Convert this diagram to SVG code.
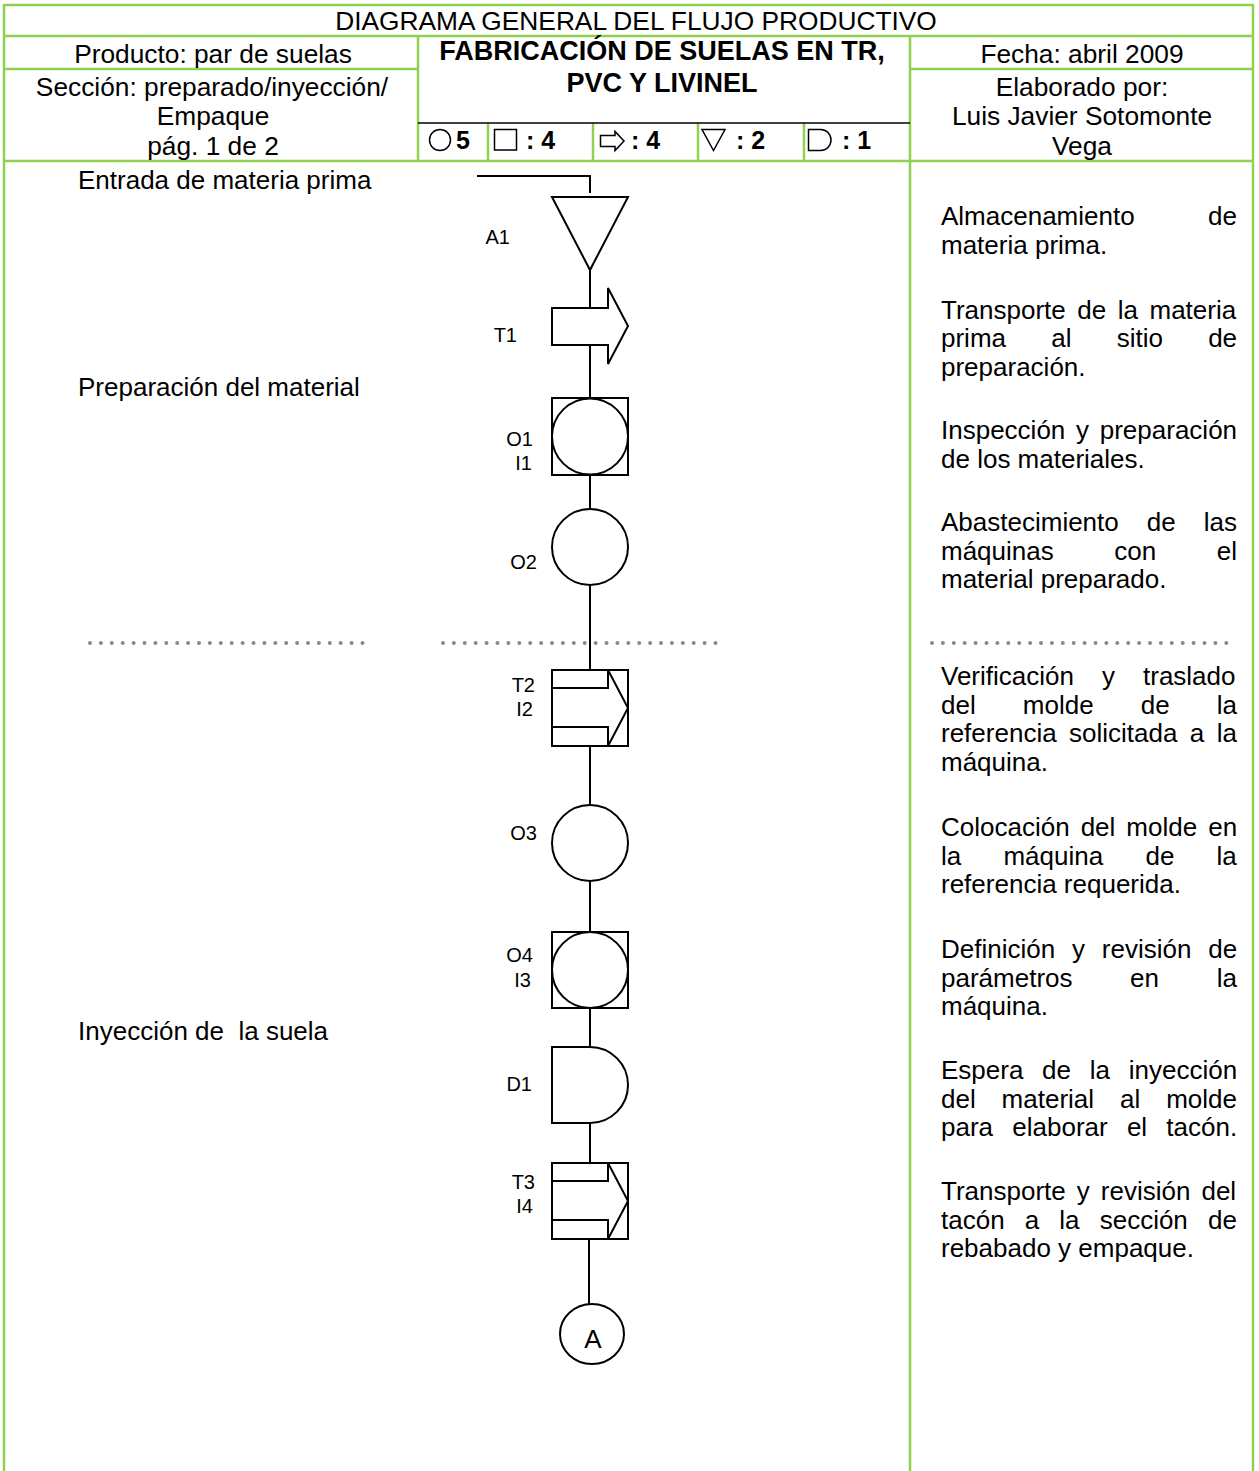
<svg xmlns="http://www.w3.org/2000/svg" width="1259" height="1471" viewBox="0 0 1259 1471">
  <style>
    .grid { stroke: #92D050; stroke-width: 2.5; fill: none; }
    .rule { stroke: #000; stroke-width: 1.5; fill: none; }
    .t { font-family: "Liberation Sans", Arial, sans-serif; fill: #000; }
    .hd { font-size: 26.3px; }
    .mid { text-anchor: middle; }
    .b { font-weight: bold; font-size: 27px; }
    .cnt { font-size: 25px; font-weight: bold; }
    .ico { fill: none; stroke: #000; stroke-width: 1.5; }
    .shape { fill: #fff; stroke: #000; stroke-width: 2; }
    .inner { fill: none; stroke: #000; stroke-width: 2; }
    .conn { fill: none; stroke: #000; stroke-width: 2; }
    .lbl { font-size: 20px; text-anchor: end; }
    .sec { font-size: 26px; }
    .desc { font-size: 26px; }
    .dots { stroke: #8a8a8a; stroke-width: 4; stroke-linecap: round; stroke-dasharray: 0 10.9; fill: none; }
  </style>

  <rect width="1259" height="1471" fill="#fff"/>

  <!-- table frame -->
  <g id="frame">
    <line class="grid" x1="4" y1="5" x2="1254" y2="5"/>
    <line class="grid" x1="4" y1="36" x2="1254" y2="36"/>
    <line class="grid" x1="4" y1="69" x2="418" y2="69"/>
    <line class="grid" x1="910" y1="69" x2="1254" y2="69"/>
    <line class="grid" x1="4" y1="161" x2="1254" y2="161"/>
    <line class="grid" x1="4" y1="4" x2="4" y2="1471"/>
    <line class="grid" x1="1253" y1="4" x2="1253" y2="1471"/>
    <line class="grid" x1="418" y1="36" x2="418" y2="161"/>
    <line class="grid" x1="910" y1="36" x2="910" y2="1471"/>
    <line class="grid" x1="488" y1="123" x2="488" y2="161"/>
    <line class="grid" x1="593" y1="123" x2="593" y2="161"/>
    <line class="grid" x1="698" y1="123" x2="698" y2="161"/>
    <line class="grid" x1="804" y1="123" x2="804" y2="161"/>
    <line class="rule" x1="418" y1="123" x2="910" y2="123"/>
  </g>

  <!-- header texts -->
  <g id="header">
    <text class="t hd mid" x="636" y="30">DIAGRAMA GENERAL DEL FLUJO PRODUCTIVO</text>
    <text class="t hd mid" x="213" y="63">Producto: par de suelas</text>
    <text class="t hd mid" x="212" y="96">Sección: preparado/inyección/</text>
    <text class="t hd mid" x="213" y="125">Empaque</text>
    <text class="t hd mid" x="213" y="155">pág. 1 de 2</text>
    <text class="t hd mid b" x="662" y="60">FABRICACIÓN DE SUELAS EN TR,</text>
    <text class="t hd mid b" x="662" y="92">PVC Y LIVINEL</text>
    <text class="t hd mid" x="1082" y="63">Fecha: abril 2009</text>
    <text class="t hd mid" x="1082" y="96">Elaborado por:</text>
    <text class="t hd mid" x="1082" y="125">Luis Javier Sotomonte</text>
    <text class="t hd mid" x="1082" y="155">Vega</text>
  </g>

  <!-- symbol count row -->
  <g id="counts">
    <circle class="ico" cx="440" cy="140" r="10.5"/>
    <text class="t cnt" x="456" y="149">5</text>
    <rect class="ico" x="494.5" y="129.5" width="22" height="20.5"/>
    <text class="t cnt" x="526" y="149">: 4</text>
    <polygon class="ico" points="600.5,135.5 615,135.5 615,131.5 624,141 615,150.5 615,146.5 600.5,146.5"/>
    <text class="t cnt" x="631" y="149">: 4</text>
    <polygon class="ico" points="702,129.5 725,129.5 713.5,150.5"/>
    <text class="t cnt" x="736" y="149">: 2</text>
    <path class="ico" d="M808.5,129.5 H820.5 A10.5,10.5 0 0 1 820.5,150.5 H808.5 Z"/>
    <text class="t cnt" x="842" y="149">: 1</text>
  </g>

  <!-- section separators -->
  <g id="separators">
    <line class="dots" x1="90" y1="643" x2="368" y2="643"/>
    <line class="dots" x1="443" y1="643" x2="718" y2="643"/>
    <line class="dots" x1="932" y1="643" x2="1232" y2="643"/>
  </g>

  <!-- stage titles on the left -->
  <g id="stages">
    <text class="t sec" x="78" y="189">Entrada de materia prima</text>
    <text class="t sec" x="78" y="396">Preparación del material</text>
    <text class="t sec" x="78" y="1040" xml:space="preserve">Inyección de  la suela</text>
  </g>

  <!-- connectors of the process line -->
  <g id="connectors">
    <polyline class="conn" points="477,176 590,176 590,193"/>
    <line class="conn" x1="590" y1="270" x2="590" y2="308"/>
    <line class="conn" x1="590" y1="345" x2="590" y2="398"/>
    <line class="conn" x1="590" y1="475" x2="590" y2="509"/>
    <line class="conn" x1="590" y1="585" x2="590" y2="670"/>
    <line class="conn" x1="590" y1="746" x2="590" y2="805"/>
    <line class="conn" x1="590" y1="881" x2="590" y2="932"/>
    <line class="conn" x1="590" y1="1008" x2="590" y2="1047"/>
    <line class="conn" x1="590" y1="1123" x2="590" y2="1163"/>
    <line class="conn" x1="589" y1="1239" x2="589" y2="1304"/>
  </g>

  <!-- process steps -->
  <g id="A1">
    <polygon class="shape" points="552,197 628,197 590,270"/>
    <text class="t lbl" x="510" y="244">A1</text>
  </g>
  <g id="T1">
    <polygon class="shape" points="552,308 608,308 608,288 628,326 608,364 608,345 552,345"/>
    <text class="t lbl" x="517" y="342">T1</text>
  </g>
  <g id="O1-I1">
    <rect class="shape" x="552" y="398" width="76" height="77"/>
    <circle class="inner" cx="590" cy="436.5" r="38"/>
    <text class="t lbl" x="533" y="446">O1</text>
    <text class="t lbl" x="532" y="470">I1</text>
  </g>
  <g id="O2">
    <circle class="shape" cx="590" cy="547" r="38"/>
    <text class="t lbl" x="537" y="569">O2</text>
  </g>
  <g id="T2-I2">
    <rect class="shape" x="552" y="670" width="76" height="76"/>
    <polyline class="inner" points="552,688 608,688 608,670 628,708 608,746 608,727 552,727"/>
    <text class="t lbl" x="535" y="692">T2</text>
    <text class="t lbl" x="533" y="716">I2</text>
  </g>
  <g id="O3">
    <circle class="shape" cx="590" cy="843" r="38"/>
    <text class="t lbl" x="537" y="840">O3</text>
  </g>
  <g id="O4-I3">
    <rect class="shape" x="552" y="932" width="76" height="76"/>
    <circle class="inner" cx="590" cy="970" r="38"/>
    <text class="t lbl" x="533" y="962">O4</text>
    <text class="t lbl" x="531" y="987">I3</text>
  </g>
  <g id="D1">
    <path class="shape" d="M552,1047 H590 A38,38 0 0 1 590,1123 H552 Z"/>
    <text class="t lbl" x="532" y="1091">D1</text>
  </g>
  <g id="T3-I4">
    <rect class="shape" x="552" y="1163" width="76" height="76"/>
    <polyline class="inner" points="552,1181 608,1181 608,1163 628,1201 608,1239 608,1220 552,1220"/>
    <text class="t lbl" x="535" y="1189">T3</text>
    <text class="t lbl" x="533" y="1213">I4</text>
  </g>
  <g id="connector-A">
    <ellipse class="shape" cx="592" cy="1334" rx="32" ry="30"/>
    <text class="t mid" x="593" y="1348" font-size="26">A</text>
  </g>

  <!-- step descriptions (justified column) -->
  <g id="descriptions" class="t desc">
    <text x="941" y="225" word-spacing="66.2">Almacenamiento de</text>
    <text x="941" y="253.5">materia prima.</text>

    <text x="941" y="319" word-spacing="4.3">Transporte de la materia</text>
    <text x="941" y="347" word-spacing="38">prima al sitio de</text>
    <text x="941" y="375.5">preparación.</text>

    <text x="941" y="439" word-spacing="3.5">Inspección y preparación</text>
    <text x="941" y="467.5">de los materiales.</text>

    <text x="941" y="531" word-spacing="20.8">Abastecimiento de las</text>
    <text x="941" y="559.5" word-spacing="53.3">máquinas con el</text>
    <text x="941" y="588">material preparado.</text>

    <text x="941" y="685" word-spacing="20.8">Verificación y traslado</text>
    <text x="941" y="713.5" word-spacing="39.9">del molde de la</text>
    <text x="941" y="742" word-spacing="5.2">referencia solicitada a la</text>
    <text x="941" y="770.5">máquina.</text>

    <text x="941" y="836" word-spacing="3.8">Colocación del molde en</text>
    <text x="941" y="864.5" word-spacing="35">la máquina de la</text>
    <text x="941" y="893">referencia requerida.</text>

    <text x="941" y="958" word-spacing="9.6">Definición y revisión de</text>
    <text x="941" y="986.5" word-spacing="50.4">parámetros en la</text>
    <text x="941" y="1015">máquina.</text>

    <text x="941" y="1079" word-spacing="11.5">Espera de la inyección</text>
    <text x="941" y="1107.5" word-spacing="18.7">del material al molde</text>
    <text x="941" y="1136" word-spacing="12">para elaborar el tacón.</text>

    <text x="941" y="1200" word-spacing="3.8">Transporte y revisión del</text>
    <text x="941" y="1228.5" word-spacing="12.9">tacón a la sección de</text>
    <text x="941" y="1257">rebabado y empaque.</text>
  </g>
</svg>
